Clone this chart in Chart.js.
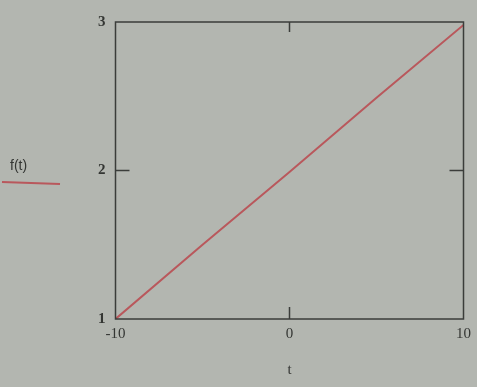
<!DOCTYPE html>
<html>
<head>
<meta charset="utf-8">
<script src="https://cdn.jsdelivr.net/npm/chart.js@4/dist/chart.umd.min.js"></script>
<style>
  html, body { margin: 0; padding: 0; background: #b3b6b0; }
  #wrap { width: 477px; height: 387px; }
</style>
</head>
<body>
<div id="wrap"><canvas id="grafico"></canvas></div>
<script>
// valores
const tValores = [-10, -5, 0, 5, 10];
const fValores = [1.0, 1.5, 1.99, 2.49, 2.98];
const xTicks = [-10, 0, 10];
const yTicks = [1, 2, 3];

const colorLinea = "#b9585c";
const colorEjes = "#3b3d3a";
const colorTexto = "#343633";

// marco y marcas interiores tipo Mathcad
const marco = {
    id: "marco",
    afterDraw(chart) {
        const ctx = chart.ctx;
        const a = chart.chartArea;
        const x = chart.scales.x;
        const y = chart.scales.y;
        ctx.save();
        ctx.strokeStyle = colorEjes;
        ctx.lineWidth = 1.5;
        ctx.strokeRect(a.left, a.top, a.right - a.left, a.bottom - a.top);
        // marcas en los valores medios
        const xm = x.getPixelForValue(xTicks[1]);
        const ym = y.getPixelForValue(yTicks[1]);
        ctx.beginPath();
        ctx.moveTo(xm, a.bottom); ctx.lineTo(xm, a.bottom - 12);
        ctx.moveTo(xm, a.top); ctx.lineTo(xm, a.top + 10);
        ctx.moveTo(a.left, ym); ctx.lineTo(a.left + 14, ym);
        ctx.moveTo(a.right, ym); ctx.lineTo(a.right - 14, ym);
        ctx.stroke();
        // leyenda a la izquierda
        ctx.fillStyle = colorTexto;
        ctx.font = "14px 'Liberation Sans'";
        ctx.textAlign = "left";
        ctx.textBaseline = "alphabetic";
        ctx.fillText(chart.data.datasets[0].label, 10, 170);
        ctx.strokeStyle = colorLinea;
        ctx.lineWidth = 2;
        ctx.beginPath();
        ctx.moveTo(2, 182); ctx.lineTo(60, 184);
        ctx.stroke();
        ctx.restore();
    }
};

new Chart("grafico", {
    type: "line",
    data: {
        datasets: [{
            label: "f(t)",
            data: tValores.map((t, i) => ({ x: t, y: fValores[i] })),
            borderColor: colorLinea,
            borderWidth: 2,
            pointRadius: 0,
            tension: 0
        }]
    },
    options: {
        responsive: true,
        maintainAspectRatio: false,
        animation: false,
        layout: {
            padding: { left: 88, right: 10, top: 22, bottom: 4 }
        },
        plugins: {
            legend: { display: false },
            tooltip: { enabled: false }
        },
        scales: {
            x: {
                type: "linear",
                min: -10,
                max: 10,
                afterBuildTicks: (s) => { s.ticks = xTicks.map(v => ({ value: v })); },
                grid: { display: false, drawTicks: false },
                border: { display: false },
                ticks: {
                    color: colorTexto,
                    padding: 6,
                    font: { family: "Liberation Serif", size: 15 }
                },
                title: {
                    display: true,
                    text: "t",
                    color: colorTexto,
                    padding: { top: 12 },
                    font: { family: "Liberation Serif", size: 15 }
                }
            },
            y: {
                min: 1,
                max: 3,
                afterBuildTicks: (s) => { s.ticks = yTicks.map(v => ({ value: v })); },
                grid: { display: false, drawTicks: false },
                border: { display: false },
                ticks: {
                    color: colorTexto,
                    padding: 10,
                    font: { family: "Liberation Serif", size: 15, weight: "bold" }
                }
            }
        }
    },
    plugins: [marco]
});
</script>
</body>
</html>
